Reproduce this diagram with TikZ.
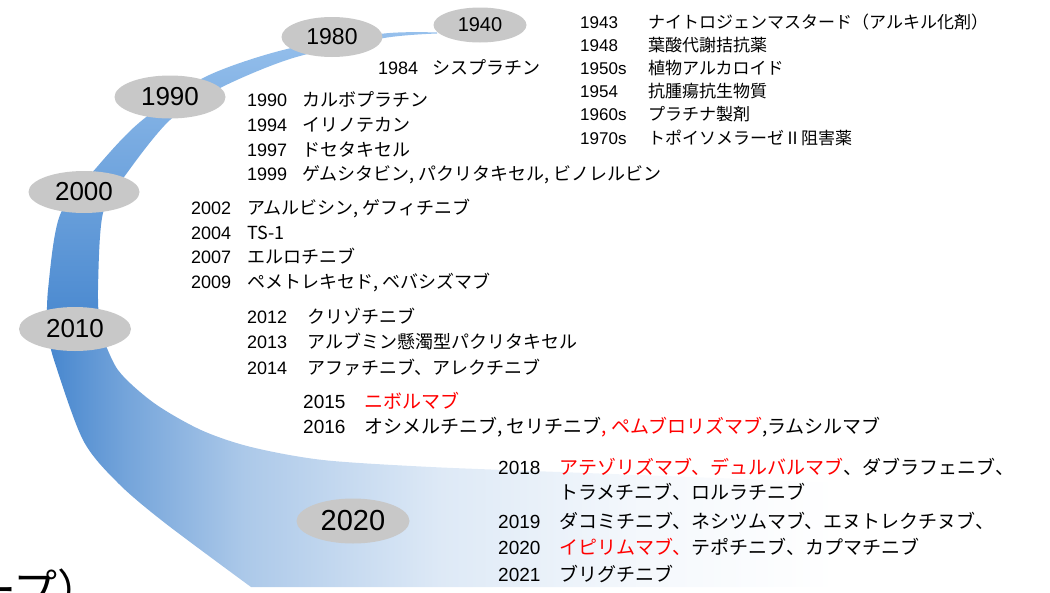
\documentclass[tikz,border=0pt]{standalone}
\usepackage{fontspec}
\setmainfont{Liberation Sans}
\newfontfamily\jp{Noto Sans CJK JP}
\usetikzlibrary{shapes.geometric}

\definecolor{bandblue}{RGB}{70,134,206}
\definecolor{bandlight}{RGB}{150,192,236}
\definecolor{eragray}{RGB}{200,200,200}
\pgfdeclarehorizontalshading{bandfade}{100bp}{color(0bp)=(bandblue); color(25bp)=(bandblue);
  color(29bp)=(bandblue!75!white); color(35bp)=(bandblue!45!white); color(45bp)=(bandblue!18!white);
  color(55bp)=(bandblue!6!white); color(65bp)=(white); color(100bp)=(white)}

\newcommand\entry[3][55pt]{\makebox[#1][l]{#2}{\jp #3}}

\def\arcband{plot[smooth] coordinates {(437,32.5) (384,33.5) (287,49) (205,77) (140,122) (97,167) (60,215) (48,290) (47,336)}
  -- plot[smooth] coordinates {(100,336) (98,290) (103,213) (127,173) (170,120) (220,88) (293,58) (384,38) (437,33.5)} -- cycle}
\def\lowband{plot[smooth] coordinates {(47,330) (54,360) (83,440) (118,483) (165,523) (251,587)} -- (833,587) -- (1033,490)
  -- plot[smooth] coordinates {(560,472) (431,467) (323,460) (251,447) (201,430) (154,403) (118,370) (100,330)} -- cycle}

\tikzset{
  era/.style={ellipse, fill=eragray, inner sep=0pt, minimum width=112pt, minimum height=44pt,
    font=\fontsize{26}{26}\selectfont},
  drug/.style={anchor=base west, inner sep=0pt, font=\fontsize{#1}{#1}\selectfont},
  drug/.default=18
}

\begin{document}
\begin{tikzpicture}[x=1pt, y=-1pt]
\useasboundingbox (0,0) rectangle (1050,592);
\clip (0,0) rectangle (1050,592);
% timeline band
\shade[top color=bandlight, bottom color=bandblue] \arcband;
\shade[shading=bandfade] \lowband;
% decades
\node[era, minimum width=93pt, minimum height=35pt, font=\fontsize{20}{20}\selectfont] (e1940) at (480,25) {1940};
\node[era, minimum width=101pt, minimum height=40pt, font=\fontsize{23}{23}\selectfont] (e1980) at (332,37) {1980};
\node[era, minimum width=111pt, minimum height=43pt] (e1990) at (170,97) {1990};
\node[era, minimum width=111pt, minimum height=42pt] (e2000) at (84,192) {2000};
\node[era] (e2010) at (75,329) {2010};
\node[era, minimum width=113pt, minimum height=45pt, font=\fontsize{29}{29}\selectfont] (e2020) at (353,521) {2020};
% drugs
\foreach \yr/\txt [count=\i from 0] in {1943/ナイトロジェンマスタード（アルキル化剤）, 1948/葉酸代謝拮抗薬,
    1950s/植物アルカロイド, 1954/抗腫瘍抗生物質, 1960s/プラチナ製剤, 1970s/トポイソメラーゼⅡ阻害薬}
  \node[drug=17] (d\yr) at (580,28+23.2*\i) {\entry[68pt]{\yr}{\txt}};
\node[drug] (d1984) at (378,74) {\entry[54pt]{1984}{シスプラチン}};
\node[drug] (d1990) at (247,106) {\entry{1990}{カルボプラチン}};
\node[drug] (d1994) at (247,131) {\entry{1994}{イリノテカン}};
\node[drug] (d1997) at (247,156) {\entry{1997}{ドセタキセル}};
\node[drug] (d1999) at (247,180) {\entry{1999}{ゲムシタビン, パクリタキセル, ビノレルビン}};
\node[drug] (d2002) at (191,214) {\entry[56pt]{2002}{アムルビシン, ゲフィチニブ}};
\node[drug] (d2004) at (191,239) {\entry[56pt]{2004}{TS-1}};
\node[drug] (d2007) at (191,263) {\entry[56pt]{2007}{エルロチニブ}};
\node[drug] (d2009) at (191,288) {\entry[56pt]{2009}{ペメトレキセド, ベバシズマブ}};
\node[drug] (d2012) at (247,323) {\entry[60pt]{2012}{クリゾチニブ}};
\node[drug] (d2013) at (247,348) {\entry[60pt]{2013}{アルブミン懸濁型パクリタキセル}};
\node[drug] (d2014) at (247,374) {\entry[60pt]{2014}{アファチニブ、アレクチニブ}};
\node[drug=19] (d2015) at (303,408) {\entry[61pt]{2015}{\textcolor{red}{ニボルマブ}}};
\node[drug=19] (d2016) at (303,433) {\entry[61pt]{2016}{オシメルチニブ, セリチニブ\textcolor{red}{, ペムブロリズマブ},ラムシルマブ}};
\node[drug=19] (d2018) at (498,474) {\entry[61pt]{2018}{\textcolor{red}{アテゾリズマブ、デュルバルマブ}、ダブラフェニブ、}};
\node[drug=19] (d2018b) at (559,499) {\jp トラメチニブ、ロルラチニブ};
\node[drug=19] (d2019) at (498,528) {\entry[61pt]{2019}{ダコミチニブ、ネシツムマブ、エヌトレクチヌブ、}};
\node[drug=19] (d2020) at (498,554) {\entry[61pt]{2020}{\textcolor{red}{イピリムマブ、}テポチニブ、カプマチニブ}};
\node[drug=19] (d2021) at (498,581) {\entry[61pt]{2021}{ブリグチニブ}};
% cut-off title
\node[anchor=base west, inner sep=0pt, font=\jp\fontsize{44}{44}\selectfont] (tail) at (-28,606) {ープ）};
\end{tikzpicture}
\end{document}
